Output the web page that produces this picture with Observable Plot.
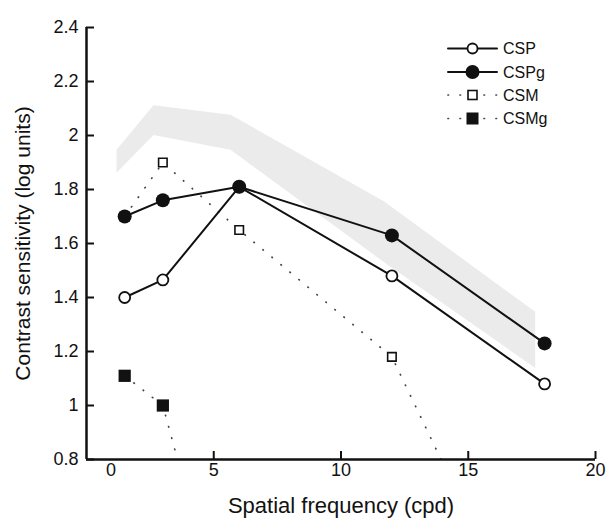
<!DOCTYPE html>
<html><head><meta charset="utf-8">
<script src="https://cdn.jsdelivr.net/npm/d3@7"></script>
<script src="https://cdn.jsdelivr.net/npm/@observablehq/plot@0.6"></script>
<style>body{margin:0;background:#fff} #chart{width:610px;height:519px}</style>
</head><body><div id="chart"></div>
<script>
// ---- data ----
const freq = [1.5, 3, 6, 12, 18];
const csp  = [1.40, 1.465, 1.81, 1.48, 1.08];
const cspg = [1.70, 1.76, 1.81, 1.63, 1.23];
const csm  = [1.70, 1.90, 1.65, 1.18, 0.0];
const csmgFreq = [1.5, 3, 6];
const csmg = [1.11, 1.00, -0.04];
const bandFreq = [1.2, 2.65, 5.68, 11.7, 17.65];
const bandHigh = [1.945, 2.11, 2.075, 1.755, 1.345];
const bandLow  = [1.86, 2.0, 1.945, 1.53, 1.137];
const xTicks = [5, 10, 15, 20];
const yTicks = [0.8, 1, 1.2, 1.4, 1.6, 1.8, 2, 2.2, 2.4];
const seriesNames = ["CSP", "CSPg", "CSM", "CSMg"];
const xLabel = "Spatial frequency (cpd)";
const yLabel = "Contrast sensitivity (log units)";

const toRows = (xs, ys) => xs.map((x, i) => ({x, y: ys[i]}));
const band = bandFreq.map((f, i) => ({x: f, lo: bandLow[i], hi: bandHigh[i]}));
const dCSP = toRows(freq, csp), dCSPg = toRows(freq, cspg), dCSM = toRows(freq, csm), dCSMg = toRows(csmgFreq, csmg);
const inView = d => d.y >= 0.8;

const font = "'Liberation Sans', Arial, Helvetica, sans-serif";
const dotted = {stroke: "#444", strokeWidth: 1.7, strokeDasharray: "0.5 11.2", strokeLinecap: "round", clip: true};
const solid = {stroke: "#111", strokeWidth: 2};

const plot = Plot.plot({
  width: 610, height: 519,
  marginLeft: 86, marginRight: 15, marginTop: 27, marginBottom: 60,
  x: {domain: [0, 20]},
  y: {domain: [0.8, 2.4]},
  style: {fontFamily: font, fontSize: "18px", color: "#111", background: "#fff"},
  marks: [
    Plot.areaY(band, {x: "x", y1: "lo", y2: "hi", fill: "#ebebeb"}),
    Plot.line(dCSM, {x: "x", y: "y", ...dotted}),
    Plot.line(dCSMg, {x: "x", y: "y", ...dotted}),
    Plot.line(dCSP, {x: "x", y: "y", ...solid}),
    Plot.line(dCSPg, {x: "x", y: "y", ...solid}),
    Plot.dot(dCSM.filter(inView), {x: "x", y: "y", symbol: "square", r: 4.8, fill: "#fff", stroke: "#111", strokeWidth: 1.6}),
    Plot.dot(dCSMg.filter(inView), {x: "x", y: "y", symbol: "square", r: 6.9, fill: "#111", stroke: "none"}),
    Plot.dot(dCSP, {x: "x", y: "y", r: 5.5, fill: "#fff", stroke: "#111", strokeWidth: 1.8}),
    Plot.dot(dCSPg, {x: "x", y: "y", r: 7, fill: "#111", stroke: "none"}),
    Plot.axisX({ticks: xTicks, tickSize: -8, tickPadding: 12, strokeWidth: 2, label: null, fontSize: 18}),
    Plot.text([0], {x: d => d, y: [0.8], frameAnchor: "bottom", dx: 24.5, dy: 4, lineAnchor: "top", text: d => String(d), fontSize: 18}),
    Plot.axisY({ticks: yTicks, tickSize: -8, tickPadding: 16, strokeWidth: 2, label: null, fontSize: 18,
                tickFormat: d => String(+d.toFixed(1))}),
    Plot.ruleX([0], {y1: 0.8, y2: 2.4, strokeWidth: 2.5, stroke: "#111"}),
    Plot.ruleY([0.8], {x1: 0, x2: 20, strokeWidth: 2.5, stroke: "#111"}),
    Plot.text([yLabel], {frameAnchor: "left", dx: -63, rotate: -90, textAnchor: "middle", lineAnchor: "middle", fontSize: 21, fill: "#111"}),
    Plot.text([xLabel], {frameAnchor: "bottom", dy: 46, textAnchor: "middle", lineAnchor: "middle", fontSize: 22, fill: "#111"})
  ]
});

// ---- legend ----
const svg = d3.select(plot);
const lg = svg.append("g").attr("font-family", font).attr("font-size", 16).attr("fill", "#111").attr("text-anchor", "start");
const lx0 = 448, lx1 = 497, lmx = 472.5, ltx = 503;
const rowsY = [48.5, 72, 95, 118.5];
seriesNames.forEach((name, i) => {
  const y = rowsY[i];
  const isDotted = i >= 2;
  lg.append("line").attr("x1", lx0).attr("x2", lx1).attr("y1", y).attr("y2", y)
    .attr("stroke", isDotted ? "#444" : "#111")
    .attr("stroke-width", isDotted ? 1.7 : 2)
    .attr("stroke-linecap", "round")
    .attr("stroke-dasharray", isDotted ? "0.5 11.5" : null);
  if (i === 0) lg.append("circle").attr("cx", lmx).attr("cy", y).attr("r", 5).attr("fill", "#fff").attr("stroke", "#111").attr("stroke-width", 1.8);
  if (i === 1) lg.append("circle").attr("cx", lmx).attr("cy", y).attr("r", 7).attr("fill", "#111");
  if (i === 2) lg.append("rect").attr("x", lmx - 4.5).attr("y", y - 4.5).attr("width", 9).attr("height", 9).attr("fill", "#fff").attr("stroke", "#111").attr("stroke-width", 1.6);
  if (i === 3) lg.append("rect").attr("x", lmx - 6).attr("y", y - 6).attr("width", 12).attr("height", 12).attr("fill", "#111");
  lg.append("text").attr("x", ltx).attr("y", y).attr("dy", "0.36em").attr("text-anchor", "start").text(name);
});

document.getElementById("chart").appendChild(plot);
</script>
</body></html>
